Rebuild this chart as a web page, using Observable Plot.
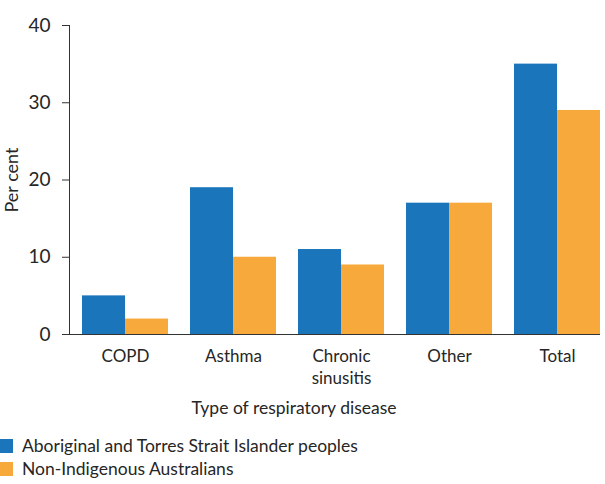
<!DOCTYPE html>
<html>
<head>
<meta charset="utf-8">
<script src="https://cdn.jsdelivr.net/npm/d3@7"></script>
<script src="https://cdn.jsdelivr.net/npm/@observablehq/plot@0.6"></script>
<style>
  html, body { margin: 0; padding: 0; background: #fff; }
  body { width: 605px; height: 484px; font-family: Lato, "Open Sans", sans-serif; color: #262626; }
  #chart svg { display: block; }
  .legend { margin-top: 9px; font-size: 17.5px; line-height: 23px; }
  .legend .row { display: flex; align-items: center; height: 23px; }
  .legend .sw { width: 13px; height: 14px; margin-right: 9px; }
</style>
</head>
<body>
<div id="chart"></div>
<div class="legend" id="legend"></div>
<script>
const categories = ["COPD", "Asthma", "Chronic\nsinusitis", "Other", "Total"];
const seriesNames = ["Aboriginal and Torres Strait Islander peoples", "Non-Indigenous Australians"];
const indigenousValues = [5, 19, 11, 17, 35];
const nonIndigenousValues = [2, 10, 9, 17, 29];
const seriesColors = ["#1b75bb", "#f8a93c"];
const yTicks = [0, 10, 20, 30, 40];
const xTitle = "Type of respiratory disease";
const yTitle = "Per cent";

const indigenousData = categories.map((c, i) => ({cat: c, value: indigenousValues[i]}));
const nonIndigenousData = categories.map((c, i) => ({cat: c, value: nonIndigenousValues[i]}));

function build(half) {
  return Plot.plot({
    width: 605,
    height: 425,
    marginTop: 25,
    marginBottom: 91,
    marginLeft: 69,
    marginRight: 5,
    style: {fontFamily: "Lato, 'Open Sans', sans-serif", color: "#262626", background: "#fff"},
    x: {type: "band", domain: categories, paddingInner: 0.2, paddingOuter: 0.05, align: 1, axis: null},
    y: {domain: [0, 40], axis: null},
    marks: [
      Plot.barY(indigenousData, {x: "cat", y: "value", fill: seriesColors[0], insetRight: half}),
      Plot.barY(nonIndigenousData, {x: "cat", y: "value", fill: seriesColors[1], insetLeft: half}),
      Plot.axisY({ticks: yTicks, tickSize: 7, tickPadding: 12, fontSize: 19, label: null, stroke: "#333"}),
      Plot.axisX({tickSize: 0, tickPadding: 12, fontSize: 17, lineHeight: 1.3, label: null}),
      Plot.frame({anchor: "left", stroke: "#333"}),
      Plot.ruleY([0], {stroke: "#333"}),
      Plot.text([xTitle], {frameAnchor: "bottom", lineAnchor: "middle", textAnchor: "middle", dy: 74, dx: -41, fontSize: 17.5, fill: "#262626"}),
      Plot.text([yTitle], {frameAnchor: "left", textAnchor: "middle", lineAnchor: "middle", rotate: -90, dx: -57, fontSize: 18, fill: "#262626"})
    ]
  });
}

let plot = build(0);
const bw = plot.scale("x").bandwidth;
plot = build(bw / 2);
document.getElementById("chart").appendChild(plot);

const legend = document.getElementById("legend");
seriesNames.forEach((name, i) => {
  const row = document.createElement("div");
  row.className = "row";
  const sw = document.createElement("span");
  sw.className = "sw";
  sw.style.background = seriesColors[i];
  const label = document.createElement("span");
  label.textContent = name;
  row.appendChild(sw);
  row.appendChild(label);
  legend.appendChild(row);
});
</script>
</body>
</html>
